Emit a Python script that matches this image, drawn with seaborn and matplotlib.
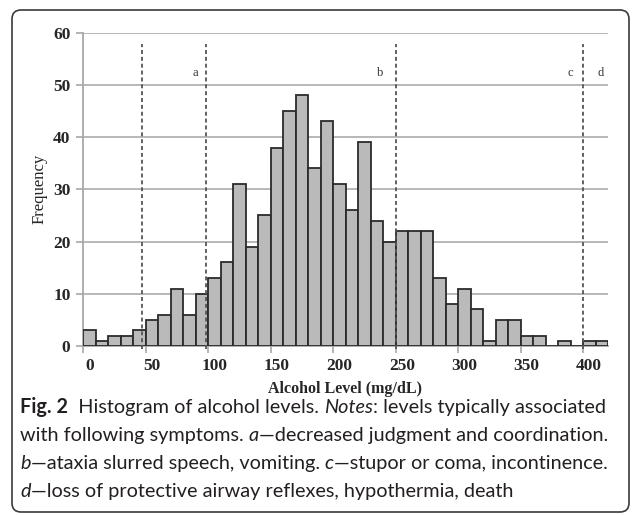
import matplotlib
matplotlib.use("Agg")
import matplotlib.pyplot as plt
import matplotlib.transforms as mtransforms
from matplotlib.patches import FancyBboxPatch
import pandas as pd
import seaborn as sns

# ---------------- data ----------------
bins = list(range(0, 420, 10))
counts = [3, 1, 2, 2, 3, 5, 6, 11, 6, 10, 13, 16, 31, 19, 25, 38, 45, 48, 34, 43,
          31, 26, 39, 24, 20, 22, 22, 22, 13, 8, 11, 7, 1, 5, 5, 2, 2, 0, 1, 0, 1, 1]
tick_values = [0, 50, 100, 150, 200, 250, 300, 350, 400]
y_ticks = [0, 10, 20, 30, 40, 50, 60]
threshold_lines = [42, 93, 245, 395]
threshold_letters = ["a", "b", "c", "d"]
threshold_letter_x = [85, 233, 385, 409]

caption_lines = [
    [("Fig. 2", "bold"), ("  Histogram of alcohol levels. ", "normal"), ("Notes", "italic"),
     (": levels typically associated", "normal")],
    [("with following symptoms. ", "normal"), ("a", "italic"),
     ("\u2014decreased judgment and coordination.", "normal")],
    [("b", "italic"), ("\u2014ataxia slurred speech, vomiting. ", "normal"), ("c", "italic"),
     ("\u2014stupor or coma, incontinence.", "normal")],
    [("d", "italic"), ("\u2014loss of protective airway reflexes, hypothermia, death", "normal")],
]

df = pd.DataFrame({"bin": [str(b) for b in bins], "count": counts})

# ---------------- figure ----------------
sns.set_style("white")
plt.rcParams["font.family"] = ["Liberation Serif", "DejaVu Serif"]

W, H = 636, 515
fig = plt.figure(figsize=(W / 100, H / 100), dpi=100)
ax = fig.add_axes([83 / W, 169 / H, 525 / W, 313.3 / H])

sns.barplot(data=df, x="bin", y="count", order=[str(b) for b in bins],
            color="#bababa", saturation=1, width=1.0,
            edgecolor="#2b2b2b", linewidth=1.3, ax=ax, zorder=3)

ax.set_xlim(-0.5, len(bins) - 0.5)
ax.set_ylim(0, 60)

# grid and spines
ax.set_yticks(y_ticks)
ax.yaxis.grid(True, color="#b8b8b8", linewidth=1.4, zorder=0)
ax.xaxis.grid(False)
ax.set_axisbelow(True)
for s in ["top", "right"]:
    ax.spines[s].set_visible(False)
for s in ["left", "bottom"]:
    ax.spines[s].set_color("#a8a8a8")
    ax.spines[s].set_linewidth(1.3)

# y ticks
ax.tick_params(axis="y", which="major", length=5, width=1.2, color="#a8a8a8",
               direction="out", pad=4, labelsize=12.5, left=True)
for lab in ax.get_yticklabels():
    lab.set_fontweight("bold")

# x ticks: labels at bar centers, marks at group boundaries
ax.set_xticks([b / 10 for b in tick_values])
ax.set_xticklabels([str(v) for v in tick_values])
ax.set_xticks([b / 10 - 0.5 for b in tick_values], minor=True)
ax.tick_params(axis="x", which="major", length=0, pad=9, labelsize=12.5, bottom=True)
ax.tick_params(axis="x", which="minor", length=5, width=1.2, color="#a8a8a8",
               direction="out", bottom=True)
for lab in ax.get_xticklabels():
    lab.set_fontweight("bold")

ax.set_xlabel("Alcohol Level (mg/dL)", fontsize=11.5, fontweight="bold")
ax.xaxis.set_label_coords(0.5, -0.113)
ax.set_ylabel("Frequency", fontsize=12)
ax.yaxis.label.set_va("center")
ax.yaxis.set_label_coords(-0.082, 0.5)

# dashed threshold lines
for v in threshold_lines:
    ax.plot([v / 10, v / 10], [-0.6, 57.8], color="#555555", linewidth=1.3,
            linestyle=(0, (2.2, 1.6)), zorder=4, clip_on=False)
for v, t in zip(threshold_letter_x, threshold_letters):
    ax.text(v / 10, 52.3, t, fontsize=9, ha="center", va="center", color="#333333")

# caption with mixed styles
renderer = fig.canvas.get_renderer()
cap_font = "Lato"
cap_size = 14.3
baselines = [413, 441, 469, 497]
for runs, yb in zip(caption_lines, baselines):
    x = 20
    for txt, style in runs:
        kw = dict(fontsize=cap_size, family=[cap_font, "DejaVu Sans"], color="#231f20",
                  va="baseline", ha="left")
        if style == "bold":
            kw["fontweight"] = "bold"
        elif style == "italic":
            kw["fontstyle"] = "italic"
        t = fig.text(x / W, (H - yb) / H, txt, **kw)
        bb = t.get_window_extent(renderer)
        x += bb.width

# rounded frame
frame = FancyBboxPatch((12, 3), 617, 502, boxstyle="round,pad=0,rounding_size=9",
                       transform=mtransforms.IdentityTransform(), fill=False,
                       edgecolor="#3a3a3a", linewidth=1.2)
fig.add_artist(frame)

fig.savefig("out.png", dpi=100)
